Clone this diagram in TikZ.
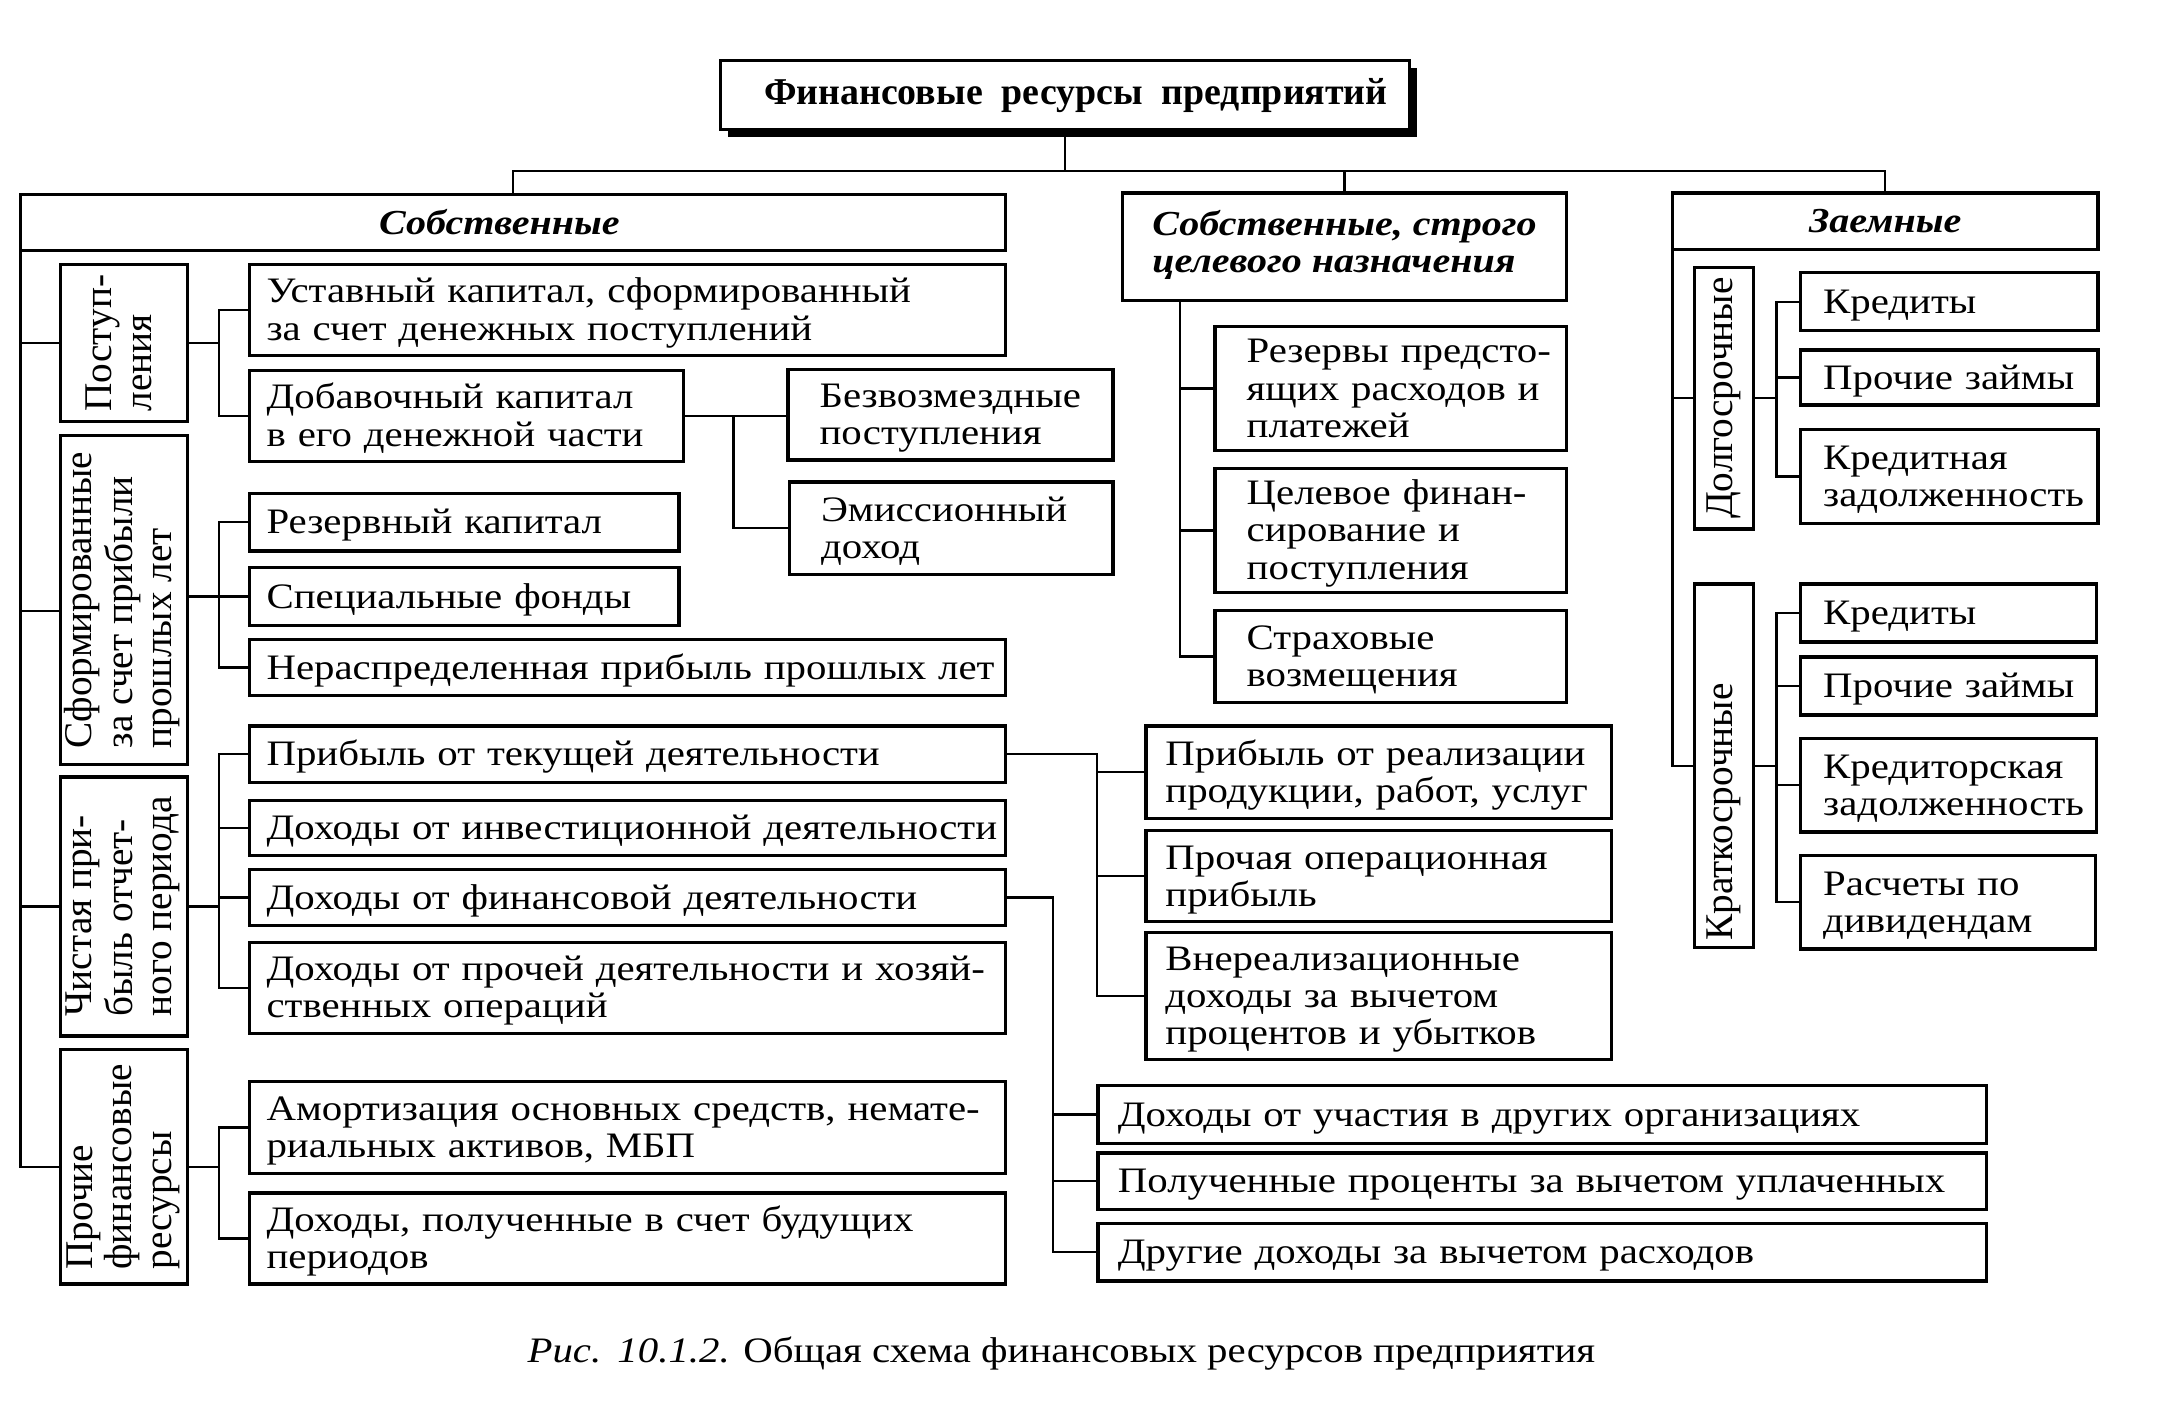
\documentclass[tikz,border=0pt]{standalone}
\usepackage{fontspec}
\setmainfont{Liberation Serif}
\newfontfamily\nfont{Liberation Serif}[FakeStretch=1.14]
\usetikzlibrary{shadows}

\newcommand\lns[1]{\begin{tabular}{@{}l@{}}#1\end{tabular}}
\newcommand\bodyf{\nfont\fontsize{26}{27}\selectfont}
\newcommand\headf{\nfont\bfseries\itshape\fontsize{25.5}{27}\selectfont}
\newcommand\rotf{\fontsize{28.5}{29}\selectfont}
\newcommand\titlef{\bfseries\fontsize{27.5}{30}\selectfont}
\newcommand\capf{\nfont\fontsize{26}{27}\selectfont}

\tikzset{
  bx/.style={draw, line width=2.4pt, anchor=north west, inner ysep=0pt, outer sep=0pt, align=left, font=\bodyf},
  vb/.style={draw, line width=2.4pt, anchor=north west, inner sep=0pt, outer sep=0pt},
  hd/.style={draw, line width=2.4pt, anchor=north west, inner sep=0pt, outer sep=0pt, font=\headf},
  rt/.style={rotate=90, inner sep=0pt, font=\rotf},
  ln/.style={line width=1.7pt},
}

% name, x1, y1, x2, y2, left padding, text
\newcommand\mybox[7]{%
  \pgfmathsetmacro\bw{#4-#2-2*#6}%
  \pgfmathsetmacro\bh{#5-#3}%
  \node[bx, inner xsep=#6pt, text width=\bw pt, minimum height=\bh pt] (#1) at (#2,#3) {\raisebox{-3pt}[\height][\depth]{\lns{#7}}};}
% style, name, x1, y1, x2, y2, text
\newcommand\cbox[7]{%
  \pgfmathsetmacro\bw{#5-#3}%
  \pgfmathsetmacro\bh{#6-#4}%
  \node[#1, minimum width=\bw pt, minimum height=\bh pt] (#2) at (#3,#4) {#7};}

\begin{document}
\begin{tikzpicture}[x=1pt,y=-1pt]
\fill[white] (0,0) rectangle (1568,1027);
\useasboundingbox (0,0) rectangle (1568,1027);

% ---------- title ----------
\node[draw, fill=white, line width=2.4pt, inner sep=0pt, outer sep=0pt, anchor=north west,
      minimum width=500pt, minimum height=50pt, font=\titlef,
      drop shadow={shadow xshift=5.5pt, shadow yshift=-5.5pt, fill=black, opacity=1}]
      (title) at (523,44) {\hspace*{16pt}Финансовые\ \ ресурсы\ \ предприятий};

% ---------- headers ----------
\cbox{hd}{sob}{15}{141}{730}{182}{Собственные\hspace*{20pt}}
\cbox{hd}{cel}{815}{140}{1137}{218}{\lns{Собственные, строго\\целевого назначения}}
\cbox{hd}{zaem}{1214}{140}{1523}{181}{Заемные}

% ---------- vertical boxes ----------
\cbox{vb}{post}{44}{192}{136}{306}{}
\cbox{vb}{sform}{44}{316}{136}{555}{}
\cbox{vb}{chist}{44}{564}{136}{752}{}
\cbox{vb}{proch}{44}{762}{136}{932}{}
\cbox{vb}{dolg}{1230}{194}{1273}{384}{}
\cbox{vb}{krat}{1230}{424}{1273}{688}{}

\node[rt] (postT) at (post.center) {\lns{Поступ-\\ления}};
\node[rt] (sformT) at (sform.center) {\lns{Сформированные\\за счет прибыли\\прошлых лет}};
\node[rt] (chistT) at (chist.center) {\lns{Чистая при-\\быль отчет-\\ного периода}};
\node[rt] (prochT) at (proch.center) {\lns{Прочие\\финансовые\\ресурсы}};
\node[rt] (dolgT) at (dolg.center) {Долгосрочные};
\node[rt, anchor=west] (kratT) at ([yshift=5pt]krat.south) {Краткосрочные};

% ---------- left column ----------
\mybox{ust}{181}{192}{730}{258}{12.5}{Уставный капитал, сформированный\\за счет денежных поступлений}
\mybox{dob}{181}{269}{496}{335}{12.5}{Добавочный капитал\\в его денежной части}
\mybox{bezv}{572}{268}{808}{334}{23}{Безвозмездные\\поступления}
\mybox{emis}{573}{350}{808}{417}{23}{Эмиссионный\\доход}
\mybox{rez}{181}{358}{493}{400}{12.5}{Резервный капитал}
\mybox{spec}{181}{412}{493}{454}{12.5}{Специальные фонды}
\mybox{nerasp}{181}{464}{730}{505}{12.5}{Нераспределенная прибыль прошлых лет}
\mybox{prtek}{181}{527}{730}{568}{12.5}{Прибыль от текущей деятельности}
\mybox{invest}{181}{581}{730}{621}{12.5}{Доходы от инвестиционной деятельности}
\mybox{finans}{181}{631}{730}{672}{12.5}{Доходы от финансовой деятельности}
\mybox{prochd}{181}{684}{730}{750}{12.5}{Доходы от прочей деятельности и хозяй-\\ственных операций}
\mybox{amort}{181}{785}{730}{852}{12.5}{Амортизация основных средств, немате-\\риальных активов, МБП}
\mybox{buduch}{181}{866}{730}{932}{12.5}{Доходы, полученные в счет будущих\\периодов}

% ---------- middle ----------
\mybox{realiz}{832}{527}{1170}{594}{14}{Прибыль от реализации\\продукции, работ, услуг}
\mybox{operac}{832}{603}{1170}{669}{14}{Прочая операционная\\прибыль}
\mybox{vnereal}{832}{677}{1170}{769}{14}{Внереализационные\\доходы за вычетом\\процентов и убытков}
\mybox{uchast}{797}{788}{1442}{830}{14.5}{Доходы от участия в других организациях}
\mybox{procent}{797}{837}{1442}{878}{14.5}{Полученные проценты за вычетом уплаченных}
\mybox{drugie}{797}{888}{1442}{930}{14.5}{Другие доходы за вычетом расходов}

\mybox{reservy}{882}{237}{1137}{327}{23}{Резервы предсто-\\ящих расходов и\\платежей}
\mybox{celfin}{882}{340}{1137}{430}{23}{Целевое финан-\\сирование и\\поступления}
\mybox{strah}{882}{443}{1137}{510}{23}{Страховые\\возмещения}

% ---------- right ----------
\mybox{kred1}{1307}{198}{1523}{240}{16.5}{Кредиты}
\mybox{zaim1}{1307}{254}{1523}{294}{16.5}{Прочие займы}
\mybox{kredzad}{1307}{312}{1523}{380}{16.5}{Кредитная\\задолженность}
\mybox{kred2}{1307}{424}{1522}{466}{16.5}{Кредиты}
\mybox{zaim2}{1307}{477}{1522}{519}{16.5}{Прочие займы}
\mybox{kreditor}{1307}{536}{1522}{604}{16.5}{Кредиторская\\задолженность}
\mybox{divid}{1307}{621}{1521}{689}{16.5}{Расчеты по\\дивидендам}

% ---------- connectors ----------
\coordinate (hb) at (0,124);
\coordinate (bl) at (159,0);
\coordinate (bd) at (532.5,0);
\coordinate (br) at (796.5,0);
\coordinate (bf) at (764.5,0);
\coordinate (bc) at (856.5,0);
\coordinate (bz) at (1289.5,0);

\draw[ln] (title.south) -- (title.south |- hb);
\draw[ln] (sob.north) -- (sob.north |- hb) -- (zaem.north |- hb) -- (zaem.north);
\draw[ln] (cel.north) -- (cel.north |- hb);

% left spine
\draw[ln] (sob.south west) -- (sob.south west |- proch.west) -- (proch.west);
\draw[ln] (sob.south west |- post.west) -- (post.west);
\draw[ln] ([yshift=-8pt]sform.west -| sob.south west) -- ([yshift=-8pt]sform.west);
\draw[ln] (sob.south west |- chist.west) -- (chist.west);

% Поступления
\draw[ln] (post.east) -- (post.east -| bl);
\draw[ln] (ust.west) -- (ust.west -| bl) -- (dob.west -| bl) -- (dob.west);
\draw[ln] (dob.east) -- (dob.east -| bezv.west);
\draw[ln] (dob.east -| bd) -- (emis.west -| bd) -- (emis.west);

% Сформированные
\draw[ln] (spec.west -| sform.east) -- (spec.west);
\draw[ln] (rez.west) -- (rez.west -| bl) -- (nerasp.west -| bl) -- (nerasp.west);

% Чистая прибыль
\draw[ln] (chist.east) -- (chist.east -| bl);
\draw[ln] (prtek.west) -- (prtek.west -| bl) -- (prochd.west -| bl) -- (prochd.west);
\draw[ln] (invest.west -| bl) -- (invest.west);
\draw[ln] (finans.west -| bl) -- (finans.west);

% Прочие финансовые ресурсы
\draw[ln] (proch.east) -- (proch.east -| bl);
\draw[ln] (amort.west) -- (amort.west -| bl) -- (buduch.west -| bl) -- (buduch.west);

% Прибыль от текущей деятельности
\draw[ln] (prtek.east) -- (prtek.east -| br) -- (vnereal.west -| br) -- (vnereal.west);
\draw[ln] (realiz.west -| br) -- (realiz.west);
\draw[ln] (operac.west -| br) -- (operac.west);

% Доходы от финансовой деятельности
\draw[ln] (finans.east) -- (finans.east -| bf) -- (drugie.west -| bf) -- (drugie.west);
\draw[ln] (uchast.west -| bf) -- (uchast.west);
\draw[ln] (procent.west -| bf) -- (procent.west);

% целевого назначения
\draw[ln] (cel.south -| bc) -- (strah.west -| bc) -- (strah.west);
\draw[ln] (reservy.west -| bc) -- (reservy.west);
\draw[ln] (celfin.west -| bc) -- (celfin.west);

% Заемные
\draw[ln] (zaem.south west) -- (zaem.south west |- krat.west) -- (krat.west);
\draw[ln] (zaem.south west |- dolg.west) -- (dolg.west);
\draw[ln] (dolg.east) -- (dolg.east -| bz);
\draw[ln] (kred1.west) -- (kred1.west -| bz) -- (kredzad.west -| bz) -- (kredzad.west);
\draw[ln] (zaim1.west -| bz) -- (zaim1.west);
\draw[ln] (krat.east) -- (krat.east -| bz);
\draw[ln] (kred2.west) -- (kred2.west -| bz) -- (divid.west -| bz) -- (divid.west);
\draw[ln] (zaim2.west -| bz) -- (zaim2.west);
\draw[ln] (kreditor.west -| bz) -- (kreditor.west);

% caption
\node[font=\capf, anchor=base, inner sep=0pt] (cap) at (770.5,989)
  {\textit{Рис.\ \,10.1.2.} Общая схема финансовых ресурсов предприятия};
\end{tikzpicture}
\end{document}
